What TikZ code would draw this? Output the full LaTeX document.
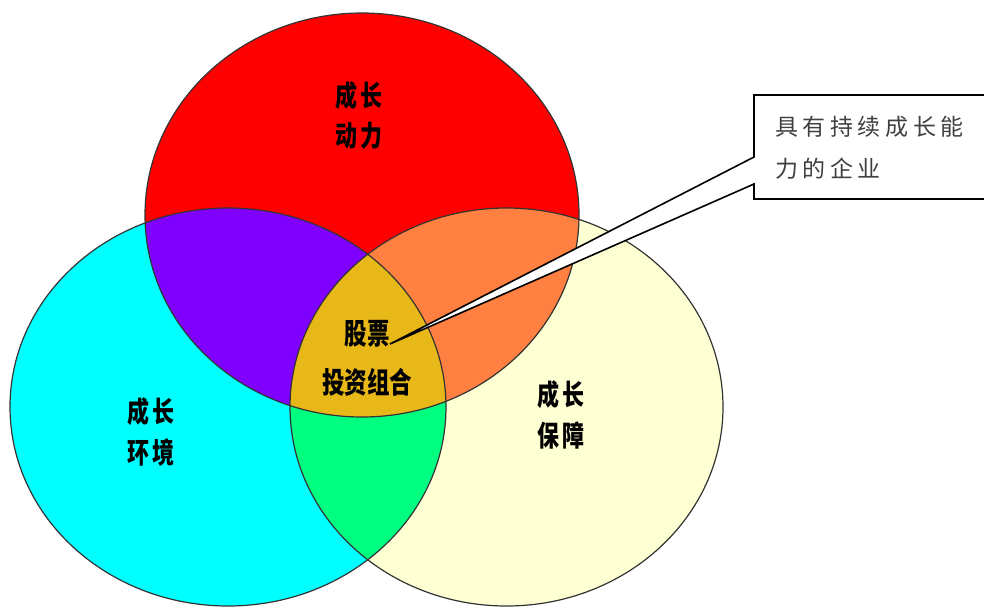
\documentclass[tikz,border=0pt]{standalone}
\usepackage{fontspec}
\newfontfamily\cjk{Noto Sans CJK SC}
\newfontfamily\cjksp{Noto Sans CJK SC}[LetterSpace=18]
\definecolor{cred}{HTML}{FF0000}
\definecolor{ccyan}{HTML}{00FFFF}
\definecolor{cyel}{HTML}{FFFFD4}
\definecolor{cpurple}{HTML}{8000FF}
\definecolor{corange}{HTML}{FF8040}
\definecolor{cgold}{HTML}{E8B818}
\definecolor{cgreen}{HTML}{00FF80}
\definecolor{ctext}{HTML}{404040}
\newcommand\redE{(362,215) ellipse [x radius=217pt, y radius=202pt]}
\newcommand\cyanE{(228,407) ellipse [x radius=218pt, y radius=199pt]}
\newcommand\yelE{(506.5,407) ellipse [x radius=216.5pt, y radius=199pt]}
\newcommand\tall[1]{\scalebox{1}[1.3]{#1}}
\begin{document}
\begin{tikzpicture}[x=1pt,y=-1pt,
  lab/.style={font=\cjk\bfseries\fontsize{22.5}{24}\selectfont, inner sep=0pt, text=black},
  labsp/.style={font=\cjksp\bfseries\fontsize{22}{24}\selectfont, inner sep=0pt, text=black},
  note/.style={font=\cjk\fontsize{23}{26}\selectfont\addfontfeatures{LetterSpace=20}, inner sep=0pt, anchor=west, text=ctext},
  outline/.style={draw=black!80, line width=1.2pt}]
\useasboundingbox (0,0) rectangle (984,606);
\fill[cred] \redE;
\fill[ccyan] \cyanE;
\fill[cyel] \yelE;
\begin{scope}
  \clip \cyanE;
  \fill[cgreen] \yelE;
\end{scope}
\begin{scope}
  \clip \redE;
  \fill[cpurple] \cyanE;
  \fill[corange] \yelE;
  \clip \cyanE;
  \fill[cgold] \yelE;
\end{scope}
\draw[outline] \redE;
\draw[outline] \cyanE;
\draw[outline] \yelE;
% labels
\node[labsp] (r1) at (359,96) {\tall{成长}};
\node[labsp] (r2) at (359,136) {\tall{动力}};
\node[lab] (c1) at (367,334) {\tall{股票}};
\node[lab] (c2) at (367,382) {\tall{投资组合}};
\node[labsp] (l1) at (151,412) {\tall{成长}};
\node[labsp] (l2) at (151,453) {\tall{环境}};
\node[labsp] (y1) at (561,395) {\tall{成长}};
\node[labsp] (y2) at (561,435) {\tall{保障}};
% callout
\coordinate (tip) at (390,344);
\coordinate (bl) at (754,199);
\coordinate (tl) at (754,95);
\draw[fill=white, line width=1.6pt, draw=black] (1000,95) -- (tl) -- (754,157) -- (tip) -- (754,184) -- (bl) -- (1000,199);
\node[note] (n1) at (775,127) {具有持续成长能};
\node[note] (n2) at (775,169) {力的企业};
\end{tikzpicture}
\end{document}
